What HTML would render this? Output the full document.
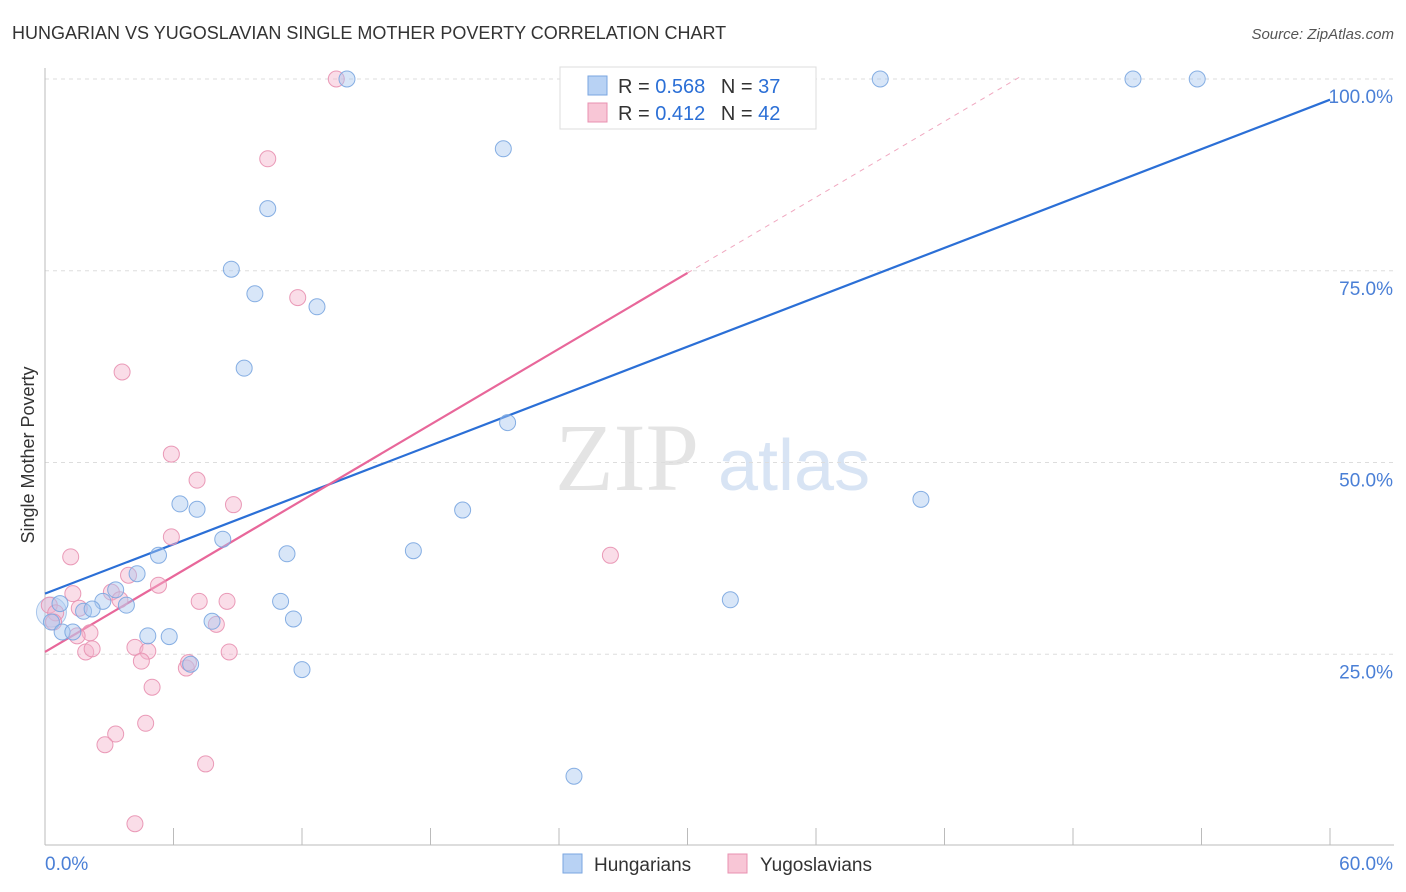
<!DOCTYPE html>
<html><head><meta charset="utf-8"><style>
body{margin:0;background:#fff;font-family:"Liberation Sans",sans-serif;}
#wrap{position:relative;width:1406px;height:892px;overflow:hidden;}
</style></head><body>
<div id="wrap">
<svg id="chart" width="1406" height="892" xmlns="http://www.w3.org/2000/svg">
<text x="12" y="39" font-size="18" fill="#333">HUNGARIAN VS YUGOSLAVIAN SINGLE MOTHER POVERTY CORRELATION CHART</text>
<text x="1394" y="39" font-size="15" fill="#555" font-style="italic" text-anchor="end">Source: ZipAtlas.com</text>
<text x="34" y="455" font-size="18" fill="#333" text-anchor="middle" transform="rotate(-90 34 455)">Single Mother Poverty</text>
<text x="555" y="490" font-size="96" fill="#e4e4e4" font-family="Liberation Serif, serif">ZIP</text>
<text x="718" y="490" font-size="72" fill="#d8e4f4">atlas</text>
<g id="grid"></g>
<g id="axes"></g>
<g id="lines"></g>
<g id="pts"></g>
<g>
<rect x="560" y="67" width="256" height="62" fill="#fff" stroke="#ddd"/>
<rect x="588" y="76" width="19" height="19" fill="#b8d2f4" stroke="#7aa6e0"/>
<text x="618" y="93" font-size="20" fill="#333">R = <tspan fill="#2b6fd6">0.568</tspan>  <tspan dx="10">N = </tspan><tspan fill="#2b6fd6">37</tspan></text>
<rect x="588" y="103" width="19" height="19" fill="#f8c6d6" stroke="#e890b0"/>
<text x="618" y="120" font-size="20" fill="#333">R =  <tspan fill="#2b6fd6">0.412</tspan>  <tspan dx="10">N = </tspan><tspan fill="#2b6fd6">42</tspan></text>
</g>
<g>
<rect x="563" y="854" width="19" height="19" fill="#b8d2f4" stroke="#7aa6e0"/>
<text x="594" y="871" font-size="19" fill="#333">Hungarians</text>
<rect x="728" y="854" width="19" height="19" fill="#f8c6d6" stroke="#e890b0"/>
<text x="760" y="871" font-size="19" fill="#333">Yugoslavians</text>
</g>
</svg>
</div>
<script>
const yTicks=[25,50,75,100];
const yTickLabels=["25.0%","50.0%","75.0%","100.0%"];
const xTicks=[0,6,12,18,24,30,36,42,48,54,60];
const blueX=[14.1,39.0,50.8,53.8,21.4,10.4,8.7,9.8,12.7,9.3,21.6,6.3,7.1,19.5,40.9,8.3,5.3,11.3,17.2,4.3,3.3,2.7,3.8,1.8,2.2,11.0,32.0,4.8,5.8,7.8,11.6,0.7,0.3,0.8,1.3,6.8,12.0,24.7];
const blueY=[100,100,100,100,90.9,83.1,75.2,72.0,70.3,62.3,55.2,44.6,43.9,43.8,45.2,40.0,37.9,38.1,38.5,35.5,33.4,31.9,31.4,30.6,30.9,31.9,32.1,27.4,27.3,29.3,29.6,31.6,29.2,27.9,27.9,23.7,23.0,9.1];
const pinkX=[13.6,10.4,11.8,3.6,5.9,7.1,8.8,5.9,1.2,26.4,3.9,5.3,3.1,1.3,3.5,7.2,8.5,0.2,1.6,0.5,8.0,0.4,2.1,1.5,4.2,4.8,1.9,2.2,8.6,4.5,6.6,6.7,5.0,3.3,4.7,2.8,7.5,4.2];
const pinkY=[100,89.6,71.5,61.8,51.1,47.7,44.5,40.3,37.7,37.9,35.3,34.0,33.1,32.9,32.1,31.9,31.9,31.4,31.0,30.4,28.9,29.2,27.8,27.4,25.9,25.4,25.3,25.7,25.3,24.1,23.2,23.9,20.7,14.6,16.0,13.2,10.7,2.9];
const blueTrend=[32.9,97.3]; // at x=0 and x=60
const pinkTrend=[25.3,1.647]; // intercept, slope
const pinkSolidEnd=30, pinkDashEnd=45.5;

const NS="http://www.w3.org/2000/svg";
const X=v=>45+v/60*1285;
const Y=v=>846-v/100*767;
function mk(tag,attrs,parent){const e=document.createElementNS(NS,tag);for(const k in attrs)e.setAttribute(k,attrs[k]);document.getElementById(parent).appendChild(e);return e;}

yTicks.forEach((t,i)=>{
 const g=mk('line',{x1:45,x2:1394,y1:Y(t),y2:Y(t),stroke:'#ddd','stroke-dasharray':'4,4'},'grid');
 
 
 const l=mk('text',{x:1393,y:Y(t)+24,'font-size':19,fill:'#4a7fd6','text-anchor':'end'},'grid');
 l.textContent=yTickLabels[i];
 
 
});
const ax=mk('line',{x1:45,x2:1394,y1:845,y2:845,stroke:'#bbb'},'axes');


const ay=mk('line',{x1:45,x2:45,y1:68,y2:845,stroke:'#bbb'},'axes');


xTicks.forEach(t=>{
 const k=mk('line',{x1:X(t),x2:X(t),y1:828,y2:845,stroke:'#bbb'},'axes');
 
 
});
const xl0=mk('text',{x:45,y:870,'font-size':19,fill:'#4a7fd6'},'axes');xl0.textContent='0.0%';


const xl1=mk('text',{x:1393,y:870,'font-size':19,fill:'#4a7fd6','text-anchor':'end'},'axes');xl1.textContent='60.0%';



const big=mk('circle',{cx:X(0.3),cy:Y(30.5),r:15,fill:'rgba(168,200,240,0.35)',stroke:'rgba(122,166,224,0.6)'},'pts');


pinkX.forEach((x,i)=>{
 const c=mk('circle',{cx:X(x),cy:Y(pinkY[i]),r:8,fill:'rgba(245,180,204,0.45)',stroke:'rgba(232,144,176,0.9)','stroke-width':1},'pts');
 
 
});
blueX.forEach((x,i)=>{
 const c=mk('circle',{cx:X(x),cy:Y(blueY[i]),r:8,fill:'rgba(168,200,240,0.45)',stroke:'rgba(122,166,224,0.9)','stroke-width':1},'pts');
 
 
});
const bl=mk('line',{x1:X(0),y1:Y(blueTrend[0]),x2:X(60),y2:Y(blueTrend[1]),stroke:'#2b6fd6','stroke-width':2.2},'lines');


const pl=mk('line',{x1:X(0),y1:Y(pinkTrend[0]),x2:X(pinkSolidEnd),y2:Y(pinkTrend[0]+pinkTrend[1]*pinkSolidEnd),stroke:'#e8679a','stroke-width':2.2},'lines');


const pd=mk('line',{x1:X(pinkSolidEnd),y1:Y(pinkTrend[0]+pinkTrend[1]*pinkSolidEnd),x2:X(pinkDashEnd),y2:Y(pinkTrend[0]+pinkTrend[1]*pinkDashEnd),stroke:'#f0a8c0','stroke-width':1,'stroke-dasharray':'5,5'},'lines');


</script>
</body></html>
